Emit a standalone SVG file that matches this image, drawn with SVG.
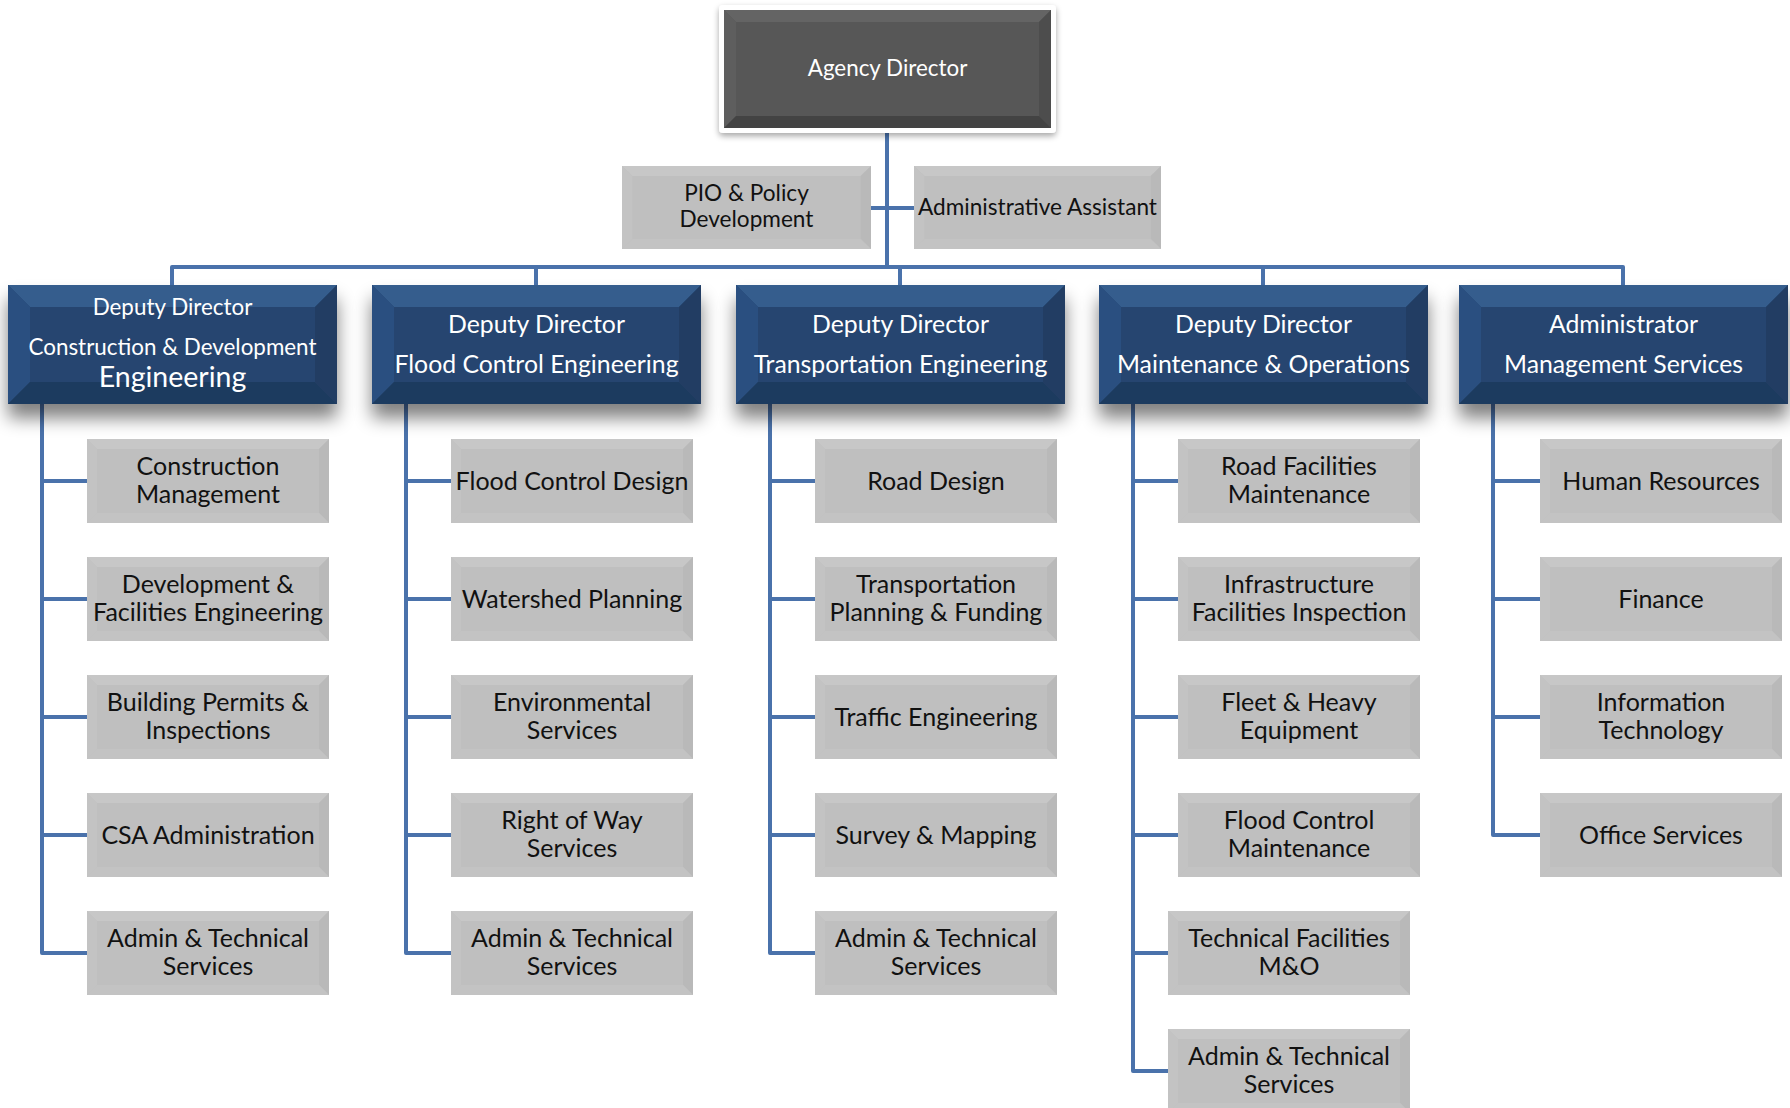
<svg xmlns="http://www.w3.org/2000/svg" xmlns:xlink="http://www.w3.org/1999/xlink" width="1790" height="1108" viewBox="0 0 1790 1108">
<style>
text{font-family:Lato,"Liberation Sans",sans-serif;text-anchor:middle}
.c{font-size:25px;fill:#111}
.s{font-size:22.6px;fill:#111}
.w{font-size:24.8px;fill:#fff}
.w1{font-size:22.4px;fill:#fff}
.w2{font-size:28.5px;fill:#fff}
.ln{fill:none;stroke:#4a72ab;stroke-width:4;stroke-linejoin:round}
</style>
<defs>
<filter id="sh" x="-20%" y="-30%" width="140%" height="180%">
<feGaussianBlur in="SourceAlpha" stdDeviation="9"/>
<feOffset dx="0" dy="14" result="b"/>
<feComponentTransfer><feFuncA type="linear" slope="0.5"/></feComponentTransfer>
<feMerge><feMergeNode/><feMergeNode in="SourceGraphic"/></feMerge>
</filter>
<filter id="sh2" x="-10%" y="-10%" width="120%" height="130%">
<feGaussianBlur in="SourceAlpha" stdDeviation="3"/>
<feOffset dx="0" dy="3" result="b"/>
<feComponentTransfer><feFuncA type="linear" slope="0.35"/></feComponentTransfer>
<feMerge><feMergeNode/><feMergeNode in="SourceGraphic"/></feMerge>
</filter>
<symbol id="gbox" viewBox="0 0 242 84" preserveAspectRatio="none">
<rect width="242" height="84" fill="#bfbfbf"/>
<polygon points="0,0 242,0 232,10 10,10" fill="#c7c7c7"/>
<polygon points="0,0 10,10 10,74 0,84" fill="#c3c3c3"/>
<polygon points="242,0 242,84 232,74 232,10" fill="#b9b9b9"/>
<polygon points="0,84 10,74 232,74 242,84" fill="#c3c3c3"/>
</symbol>
<symbol id="bbox" viewBox="0 0 329 119" preserveAspectRatio="none">
<rect width="329" height="119" fill="#25456f"/>
<polygon points="0,0 329,0 307,22 22,22" fill="#365d8d"/>
<polygon points="0,0 22,22 22,97 0,119" fill="#2c5080"/>
<polygon points="329,0 329,119 307,97 307,22" fill="#203e64"/>
<polygon points="0,119 22,97 307,97 329,119" fill="#1e3a5e"/>
</symbol>
<symbol id="abox" viewBox="0 0 327 118" preserveAspectRatio="none">
<rect width="327" height="118" fill="#575757"/>
<polygon points="0,0 327,0 315,12 12,12" fill="#646464"/>
<polygon points="0,0 12,12 12,106 0,118" fill="#5e5e5e"/>
<polygon points="327,0 327,118 315,106 315,12" fill="#4d4d4d"/>
<polygon points="0,118 12,106 315,106 327,118" fill="#434343"/>
</symbol>
</defs>
<rect width="1790" height="1108" fill="#fff"/>

<g id="connectors">
<path class="ln" d="M887,133 V267"/>
<path class="ln" d="M871,208 H915"/>
<path class="ln" d="M172,285 V267 H1623 V285"/>
<path class="ln" d="M536,267 V285 M900,267 V285 M1263,267 V285"/>
<path class="ln" d="M42,404 V953 H87 M42,481 H87 M42,599 H87 M42,717 H87 M42,835 H87"/>
<path class="ln" d="M406,404 V953 H451 M406,481 H451 M406,599 H451 M406,717 H451 M406,835 H451"/>
<path class="ln" d="M770,404 V953 H815 M770,481 H815 M770,599 H815 M770,717 H815 M770,835 H815"/>
<path class="ln" d="M1133,404 V1071 H1168 M1133,481 H1178 M1133,599 H1178 M1133,717 H1178 M1133,835 H1178 M1133,953 H1168"/>
<path class="ln" d="M1493,404 V835 H1540 M1493,481 H1540 M1493,599 H1540 M1493,717 H1540"/>
</g>

<g id="agency-director">
<rect x="719" y="5" width="337" height="128" rx="4" fill="#fff" filter="url(#sh2)"/>
<use xlink:href="#abox" x="724" y="10" width="327" height="118"/>
<text class="w1" x="887.5" y="76">Agency Director</text>
</g>
<g id="pio-policy">
<use xlink:href="#gbox" x="622" y="166" width="249" height="83"/>
<text class="s" x="746.5" y="201">PIO &amp; Policy</text>
<text class="s" x="746.5" y="227">Development</text>
</g>
<g id="admin-assistant">
<use xlink:href="#gbox" x="914" y="166" width="247" height="83"/>
<text class="s" x="1037.5" y="215">Administrative Assistant</text>
</g>

<g id="dd-construction">
<use xlink:href="#bbox" x="8" y="285" width="329" height="119" filter="url(#sh)"/>
<text class="w1" x="172.5" y="315">Deputy Director</text>
<text class="w1" x="172.5" y="355">Construction &amp; Development</text>
<text class="w2" x="172.5" y="387">Engineering</text>
</g>
<g id="dd-flood">
<use xlink:href="#bbox" x="372" y="285" width="329" height="119" filter="url(#sh)"/>
<text class="w" x="536.5" y="333">Deputy Director</text>
<text class="w" x="536.5" y="373">Flood Control Engineering</text>
</g>
<g id="dd-transportation">
<use xlink:href="#bbox" x="736" y="285" width="329" height="119" filter="url(#sh)"/>
<text class="w" x="900.5" y="333">Deputy Director</text>
<text class="w" x="900.5" y="373">Transportation Engineering</text>
</g>
<g id="dd-maintenance">
<use xlink:href="#bbox" x="1099" y="285" width="329" height="119" filter="url(#sh)"/>
<text class="w" x="1263.5" y="333">Deputy Director</text>
<text class="w" x="1263.5" y="373">Maintenance &amp; Operations</text>
</g>
<g id="admin-management">
<use xlink:href="#bbox" x="1459" y="285" width="329" height="119" filter="url(#sh)"/>
<text class="w" x="1623.5" y="333">Administrator</text>
<text class="w" x="1623.5" y="373">Management Services</text>
</g>

<g id="construction-management"><use xlink:href="#gbox" x="87" y="439" width="242" height="84"/><text class="c" x="208" y="475">Construction</text><text class="c" x="208" y="503">Management</text></g>
<g id="dev-facilities"><use xlink:href="#gbox" x="87" y="557" width="242" height="84"/><text class="c" x="208" y="593">Development &amp;</text><text class="c" x="208" y="621">Facilities Engineering</text></g>
<g id="building-permits"><use xlink:href="#gbox" x="87" y="675" width="242" height="84"/><text class="c" x="208" y="711">Building Permits &amp;</text><text class="c" x="208" y="739">Inspections</text></g>
<g id="csa-admin"><use xlink:href="#gbox" x="87" y="793" width="242" height="84"/><text class="c" x="208" y="844">CSA Administration</text></g>
<g id="admin-tech-1"><use xlink:href="#gbox" x="87" y="911" width="242" height="84"/><text class="c" x="208" y="947">Admin &amp; Technical</text><text class="c" x="208" y="975">Services</text></g>

<g id="flood-design"><use xlink:href="#gbox" x="451" y="439" width="242" height="84"/><text class="c" x="572" y="490">Flood Control Design</text></g>
<g id="watershed"><use xlink:href="#gbox" x="451" y="557" width="242" height="84"/><text class="c" x="572" y="608">Watershed Planning</text></g>
<g id="environmental"><use xlink:href="#gbox" x="451" y="675" width="242" height="84"/><text class="c" x="572" y="711">Environmental</text><text class="c" x="572" y="739">Services</text></g>
<g id="right-of-way"><use xlink:href="#gbox" x="451" y="793" width="242" height="84"/><text class="c" x="572" y="829">Right of Way</text><text class="c" x="572" y="857">Services</text></g>
<g id="admin-tech-2"><use xlink:href="#gbox" x="451" y="911" width="242" height="84"/><text class="c" x="572" y="947">Admin &amp; Technical</text><text class="c" x="572" y="975">Services</text></g>

<g id="road-design"><use xlink:href="#gbox" x="815" y="439" width="242" height="84"/><text class="c" x="936" y="490">Road Design</text></g>
<g id="transport-planning"><use xlink:href="#gbox" x="815" y="557" width="242" height="84"/><text class="c" x="936" y="593">Transportation</text><text class="c" x="936" y="621">Planning &amp; Funding</text></g>
<g id="traffic"><use xlink:href="#gbox" x="815" y="675" width="242" height="84"/><text class="c" x="936" y="726">Traffic Engineering</text></g>
<g id="survey"><use xlink:href="#gbox" x="815" y="793" width="242" height="84"/><text class="c" x="936" y="844">Survey &amp; Mapping</text></g>
<g id="admin-tech-3"><use xlink:href="#gbox" x="815" y="911" width="242" height="84"/><text class="c" x="936" y="947">Admin &amp; Technical</text><text class="c" x="936" y="975">Services</text></g>

<g id="road-facilities"><use xlink:href="#gbox" x="1178" y="439" width="242" height="84"/><text class="c" x="1299" y="475">Road Facilities</text><text class="c" x="1299" y="503">Maintenance</text></g>
<g id="infrastructure"><use xlink:href="#gbox" x="1178" y="557" width="242" height="84"/><text class="c" x="1299" y="593">Infrastructure</text><text class="c" x="1299" y="621">Facilities Inspection</text></g>
<g id="fleet"><use xlink:href="#gbox" x="1178" y="675" width="242" height="84"/><text class="c" x="1299" y="711">Fleet &amp; Heavy</text><text class="c" x="1299" y="739">Equipment</text></g>
<g id="flood-maintenance"><use xlink:href="#gbox" x="1178" y="793" width="242" height="84"/><text class="c" x="1299" y="829">Flood Control</text><text class="c" x="1299" y="857">Maintenance</text></g>
<g id="tech-facilities"><use xlink:href="#gbox" x="1168" y="911" width="242" height="84"/><text class="c" x="1289" y="947">Technical Facilities</text><text class="c" x="1289" y="975">M&amp;O</text></g>
<g id="admin-tech-4"><use xlink:href="#gbox" x="1168" y="1029" width="242" height="84"/><text class="c" x="1289" y="1065">Admin &amp; Technical</text><text class="c" x="1289" y="1093">Services</text></g>

<g id="human-resources"><use xlink:href="#gbox" x="1540" y="439" width="242" height="84"/><text class="c" x="1661" y="490">Human Resources</text></g>
<g id="finance"><use xlink:href="#gbox" x="1540" y="557" width="242" height="84"/><text class="c" x="1661" y="608">Finance</text></g>
<g id="info-tech"><use xlink:href="#gbox" x="1540" y="675" width="242" height="84"/><text class="c" x="1661" y="711">Information</text><text class="c" x="1661" y="739">Technology</text></g>
<g id="office-services"><use xlink:href="#gbox" x="1540" y="793" width="242" height="84"/><text class="c" x="1661" y="844">Office Services</text></g>
</svg>
